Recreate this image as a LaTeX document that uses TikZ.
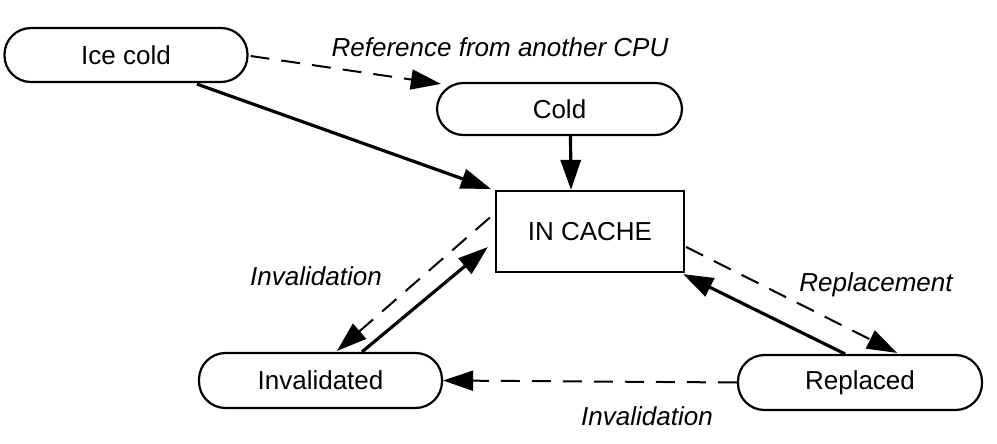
\documentclass[tikz,border=0pt]{standalone}
\usepackage{fontspec}
\setmainfont{Liberation Sans}
\usetikzlibrary{arrows.meta,calc}
\begin{document}
\begin{tikzpicture}[x=1pt,y=-1pt,
  every node/.style={font=\fontsize{26}{30}\selectfont},
  pill/.style={draw,line width=2.2pt,rounded corners=26.5pt,minimum height=#1,inner sep=0pt},
  box/.style={draw,line width=2.2pt,inner sep=0pt},
  lbl/.style={font=\fontsize{26}{30}\selectfont\itshape,inner sep=0pt},
  solidarr/.style={line width=3.2pt,-{Triangle[length=30pt,width=20pt]}},
  dasharr/.style={line width=2pt,dash pattern=on 19pt off 12pt,-{Triangle[length=30pt,width=20pt]}}
]
\fill[white] (0,0) rectangle (997,444);
\useasboundingbox (0,0) rectangle (997,444);

\node[pill=54pt,minimum width=243pt] (ice) at (126,55) {Ice cold};
\node[pill=52pt,minimum width=245pt] (cold) at (559.5,109) {Cold};
\node[box,minimum width=188pt,minimum height=81pt] (inc) at (590,231.5) {IN CACHE};
\node[pill=55pt,minimum width=243pt] (inv) at (320.5,380.5) {Invalidated};
\node[pill=55pt,minimum width=244pt] (rep) at (860,382.5) {Replaced};

% edges
\draw[dasharr] ($(ice.east)+(2,1)$) -- ($(cold.north west)+(5,2)$);
\draw[solidarr] ($(ice.south)+(71,1)$) -- ($(inc.north west)+(-4,-1)$);
\draw[solidarr] ($(cold.south)+(11,0)$) -- ($(inc.north)+(-19,0)$);
\draw[dasharr] ($(inc.west)+(-5,-14)$) -- ($(inv.north)+(16.5,-1)$);
\draw[solidarr] ($(inv.north)+(41.5,0)$) -- ($(inc.west)+(-7,15.5)$);
\draw[dasharr] ($(inc.east)+(1,15.5)$) -- ($(rep.north)+(37,-1)$);
\draw[solidarr] ($(rep.north)+(-15,0)$) -- ($(inc.south east)+(-2,1)$);
\draw[dasharr] (rep.west) -- (inv.east);

% labels
\node[lbl] (l1) at (500,47) {Reference from another CPU};
\node[lbl] (l2) at (316,276) {Invalidation};
\node[lbl] (l3) at (876,285) {Replacement};
\node[lbl] (l4) at (647,416) {Invalidation};
\end{tikzpicture}
\end{document}
